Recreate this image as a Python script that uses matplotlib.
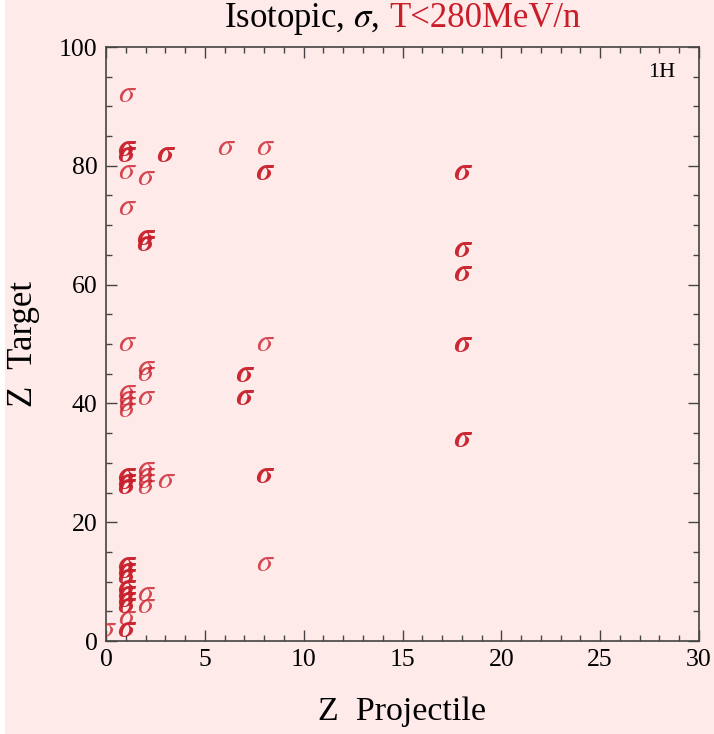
import matplotlib
matplotlib.use("Agg")
import matplotlib.pyplot as plt
from matplotlib.patches import Rectangle
from matplotlib.ticker import MultipleLocator

# ---- data (Z projectile, Z target) ----
thin_zp = [1, 6, 8, 1, 2, 1, 1, 8, 2, 2, 2, 1, 1, 1, 1, 2, 2, 2, 2, 3, 8, 2, 2, 1, 0]
thin_zt = [92, 83, 83, 79, 78, 73, 50, 50, 46, 45, 41, 39, 40, 41, 42, 26, 27, 28, 29, 27, 13, 8, 6, 4, 2]

bold_zp = [1, 1, 3, 8, 18, 2, 2, 18, 18, 18, 7, 7, 18, 8, 1, 1, 1, 1, 1, 1, 1, 1, 1, 1, 1]
bold_zt = [82, 83, 82, 79, 79, 67, 68, 66, 62, 50, 45, 41, 34, 28, 26, 27, 28, 11, 12, 13, 6, 7, 8, 9, 2]

x_ticks = [0, 5, 10, 15, 20, 25, 30]
y_ticks = [0, 20, 40, 60, 80, 100]

PINK = "#FFEAEA"
RED = "#C81E2A"

plt.rcParams["mathtext.fontset"] = "stix"
plt.rcParams["font.family"] = ["Liberation Serif", "DejaVu Serif"]

W, H = 714, 734
fig = plt.figure(figsize=(W / 100, H / 100), dpi=100, facecolor="white")
fig.patches.append(Rectangle((5 / W, 0), 1 - 5 / W, 1, transform=fig.transFigure,
                             facecolor=PINK, edgecolor="none", zorder=-10))

ax = fig.add_axes([106 / W, 1 - 641 / H, 593 / W, 594 / H])
ax.set_facecolor(PINK)
ax.set_xlim(0, 30)
ax.set_ylim(0, 100)
ax.set_xticks(x_ticks)
ax.set_yticks(y_ticks)
ax.xaxis.set_minor_locator(MultipleLocator(1))
ax.yaxis.set_minor_locator(MultipleLocator(5))
ax.tick_params(which="both", direction="in", top=True, right=True, color="#444444",
               labelsize=18.5, width=1.0)
ax.tick_params(which="major", length=8, pad=6)
ax.tick_params(which="minor", length=4)
for s in ax.spines.values():
    s.set_color("#444444")
    s.set_linewidth(1.2)

for x, y in zip(thin_zp, thin_zt):
    ax.text(x, y, "σ", ha="center", va="center", fontsize=23, family="STIXGeneral",
            style="italic", color=RED, alpha=0.8, clip_on=True)
for x, y in zip(bold_zp, bold_zt):
    ax.text(x, y, "σ", ha="center", va="center", fontsize=23, family="STIXGeneral",
            style="italic", fontweight="bold", color=RED, alpha=0.95, clip_on=True)

ax.text(0.9376, 0.957, "1H", transform=ax.transAxes, ha="center", va="center",
        fontsize=16, color="black")

ax.set_xlabel("Z  Projectile", fontsize=24.5, labelpad=18)
ax.set_ylabel("Z  Target", fontsize=25, labelpad=14)

# title in two colours
r = fig.canvas.get_renderer()
t1 = fig.text(224 / W, 1 - 27 / H, r"Isotopic, $\sigma$,", ha="left", va="baseline",
              fontsize=25, color="black")
bb = t1.get_window_extent(renderer=r)
fig.text((bb.x1 + 10) / W, 1 - 27 / H, "T<280MeV/n", ha="left", va="baseline",
         fontsize=25, color=RED)

fig.savefig("out.png", dpi=100, facecolor=fig.get_facecolor())
